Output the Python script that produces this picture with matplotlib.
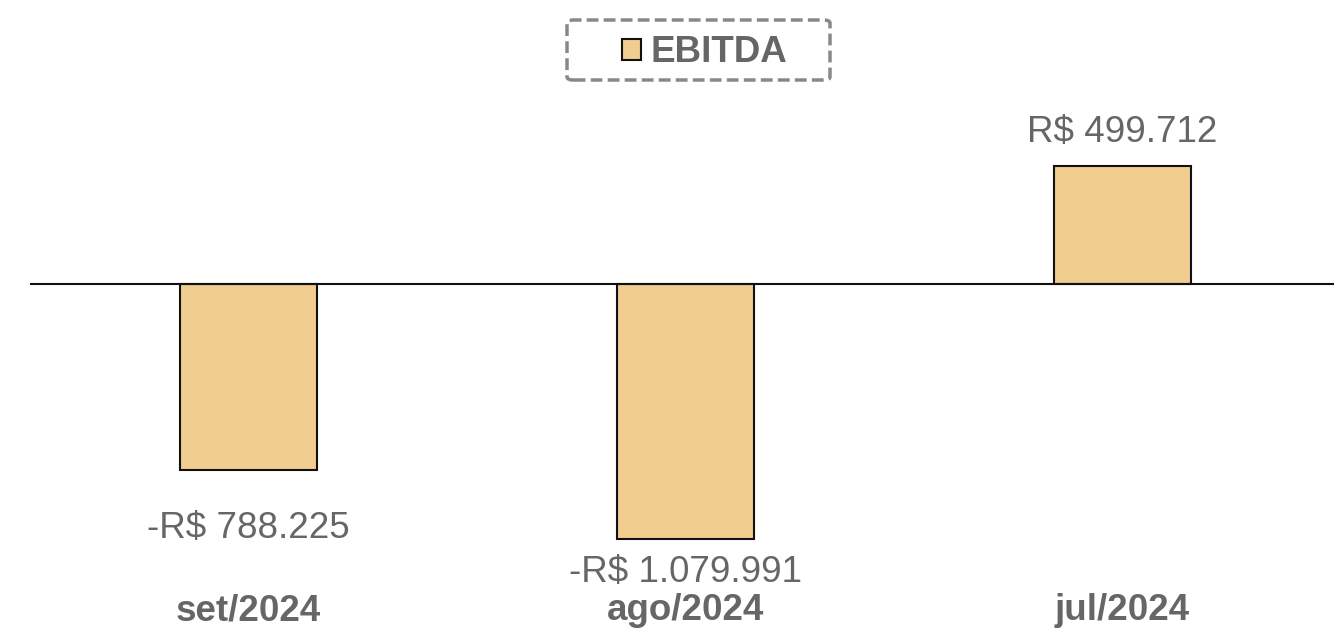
import numpy as np
import matplotlib.pyplot as plt
from matplotlib.patches import FancyBboxPatch

plt.rcParams['font.family'] = ['Liberation Sans', 'DejaVu Sans']

# data
months = ['set/2024', 'ago/2024', 'jul/2024']
ebitda = [-788225, -1079991, 499712]
labels = ['-R$ 788.225', '-R$ 1.079.991', 'R$ 499.712']
# label offset from bar end, in points
label_off = [-42, -24, 24]

bar_color = '#f1cd8f'
txt_color = '#666666'

W, H = 1334, 632
fig = plt.figure(figsize=(W / 100, H / 100), dpi=100)
# axes spans px 30..1334 horizontally, 100..560 vertically
ax = fig.add_axes([30 / W, (H - 560) / H, (1334 - 30) / W, (560 - 100) / H])

x = np.arange(len(months))
bars = ax.bar(x, ebitda, width=0.313, color=bar_color, edgecolor='#111111',
              linewidth=1.5, label='EBITDA', zorder=2)
ax.axhline(0, color='#111111', linewidth=1.5, zorder=3)

px = 499712 / 118.0
ax.set_ylim(-(560 - 284) * px, (284 - 100) * px)
ax.set_xlim(-0.5, 2.484)

for i in range(len(months)):
    ax.annotate(labels[i], (x[i], ebitda[i]), xytext=(0, label_off[i]),
                textcoords='offset points', ha='center', va='center',
                fontsize=26.5, color=txt_color)

ax.set_yticks([])
ax.set_xticks([])
for s in ax.spines.values():
    s.set_visible(False)

for i in range(len(months)):
    fig.text((30 + (x[i] + 0.5) * (1334 - 30) / 2.984) / W, (H - 611) / H, months[i],
             ha='center', va='center', fontsize=26.5, fontweight='bold', color=txt_color)

# legend (no frame) plus a dashed rounded box drawn around it
leg = fig.legend(handles=[bars], loc='center', bbox_to_anchor=(705 / W, (H - 53) / H),
                 frameon=False, handlelength=0.5, handleheight=0.5,
                 handletextpad=0.27, borderpad=0, borderaxespad=0,
                 prop={'weight': 'bold', 'size': 26.5})
for t in leg.get_texts():
    t.set_color(txt_color)

box = FancyBboxPatch((567 / W, (H - 80) / H), (830 - 567) / W, 60 / H,
                     boxstyle='round,pad=0,rounding_size=0.005',
                     transform=fig.transFigure, fill=False,
                     edgecolor='#888888', linewidth=2.5, linestyle=(0, (3.4, 1.5)))
fig.patches.append(box)

fig.savefig('out.png', dpi=100)
